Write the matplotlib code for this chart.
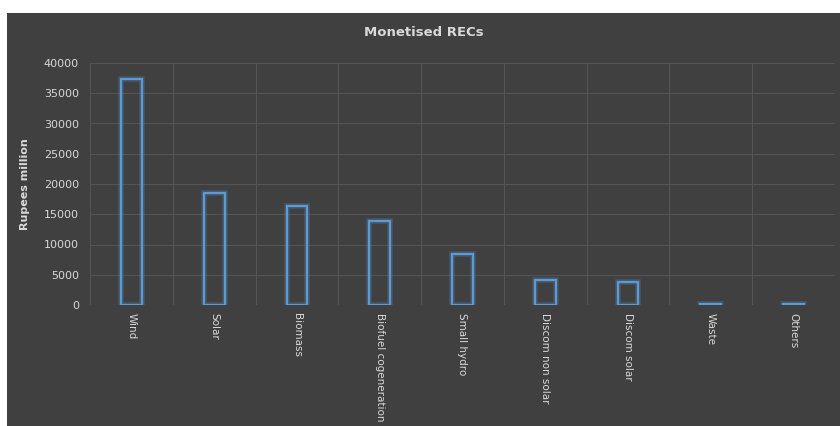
import matplotlib.pyplot as plt
import matplotlib.patches as mpatches
import numpy as np

categories = ["Wind", "Solar", "Biomass", "Biofuel cogeneration", "Small hydro",
              "Discom non solar", "Discom solar", "Waste", "Others"]
values = [37300, 18500, 16400, 13900, 8400, 4100, 3800, 200, 200]
yticks = [0, 5000, 10000, 15000, 20000, 25000, 30000, 35000, 40000]

bg = '#404040'
txt = '#d9d9d9'
blue = '#5b9bd5'

fig = plt.figure(figsize=(8.4, 4.26), dpi=100)
fig.patch.set_facecolor('white')
# dark chart area
fig.patches.append(mpatches.Rectangle((7/840, 0), 1, (426-13)/426,
                                      transform=fig.transFigure, facecolor=bg,
                                      edgecolor='none', zorder=-10))

ax = fig.add_axes([90/840, (426-305)/426, (835-90)/840, (305-63)/426])
ax.set_facecolor(bg)

x = np.arange(len(categories))
# soft glow behind the outline
ax.bar(x, values, width=0.25, facecolor='none', edgecolor=blue, linewidth=4,
       alpha=0.25, zorder=3)
ax.bar(x, values, width=0.25, facecolor='none', edgecolor=blue, linewidth=1.6,
       zorder=4)

ax.set_xlim(-0.5, len(categories) - 0.5)
ax.set_ylim(0, 40000)
ax.set_yticks(yticks)
ax.set_yticklabels([str(v) for v in yticks], color=txt, fontsize=8)
ax.set_xticks(x)
ax.set_xticklabels(categories, rotation=-90, color=txt, fontsize=7.5,
                   va='top', ha='center')
ax.tick_params(axis='y', length=0, pad=8)
ax.tick_params(axis='x', length=0, pad=6)

# grid: horizontal at ticks, vertical between categories
for v in yticks:
    ax.axhline(v, color='#555555', linewidth=0.7, zorder=1)
for b in np.arange(-0.5, len(categories), 1.0):
    ax.axvline(b, color='#555555', linewidth=0.7, zorder=1)
for s in ax.spines.values():
    s.set_visible(False)

ax.set_ylabel("Rupees million", color=txt, fontsize=8, fontweight='bold',
              labelpad=10)
fig.text(0.505, (426-33)/426, "Monetised RECs", color=txt, fontsize=9.5,
         fontweight='bold', ha='center', va='center')

plt.savefig('out.png', dpi=100, facecolor=fig.get_facecolor())
